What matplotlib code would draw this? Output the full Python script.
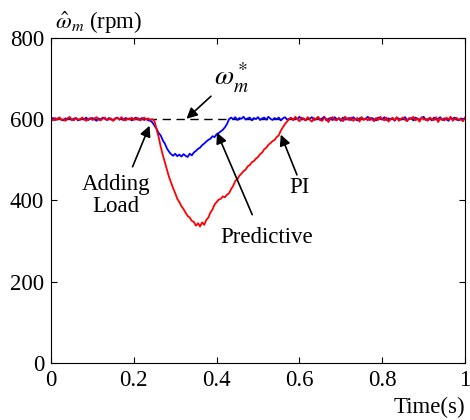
import numpy as np
import matplotlib
matplotlib.use("Agg")
import matplotlib.pyplot as plt

plt.rcParams['font.family'] = ['Liberation Serif', 'DejaVu Serif']
plt.rcParams['mathtext.fontset'] = 'stix'
plt.rcParams['font.size'] = 16.5

# speed reference (rpm)
ref_speed = 600

# PI controller speed, sampled every 5 ms from 0 to 1 s
speed_pi = [
    601, 597, 603, 599, 604, 598, 600, 596, 602, 605,
    599, 597, 603, 600, 598, 604, 601, 596, 600, 603,
    598, 602, 605, 599, 597, 601, 604, 598, 600, 602,
    596, 601, 603, 599, 605, 600, 597, 602, 599, 604,
    598, 601, 603, 597, 600, 604, 599, 602, 598,
    600, 595, 575, 556, 532, 512, 494, 476, 458, 444,
    430, 418, 404, 396, 386, 379, 370, 362, 358, 350,
    347, 338, 344, 336, 346, 340, 352, 358, 370, 378,
    390, 396, 402, 404, 410, 408, 414, 418, 428, 436,
    448, 452, 461, 466, 472, 476, 484, 487, 494, 497,
    503, 507, 514, 518, 526, 530, 537, 541, 546, 549,
    556, 560, 572, 580, 588, 594, 600,
    603, 598, 606, 600, 595, 604, 601, 597, 605, 599,
    594, 603, 600, 606, 598, 596, 604, 601, 593, 602,
    605, 599, 597, 603, 600, 595, 606, 601, 598, 604,
    596, 600, 603, 594, 605, 599, 602, 597, 604, 600,
    595, 603, 598, 606, 601, 597, 604, 594, 600, 603,
    598, 605, 596, 601, 604, 599, 595, 603, 600, 606,
    597, 602, 594, 605, 599, 601, 596, 604, 600, 598,
    605, 593, 602, 600, 597, 604, 599, 606, 596, 601,
    603, 598, 600, 595, 604,
]

# predictive controller speed, same sampling
speed_pred = [
    600, 603, 598, 601, 604, 599, 597, 602, 600, 605,
    598, 601, 603, 597, 600, 602, 599, 604, 598, 601,
    603, 600, 596, 602, 599, 604, 601, 598, 603, 600,
    597, 602, 604, 599, 601, 598, 603, 600, 602, 597,
    601, 604, 599, 600, 603, 598, 601, 597,
    596, 592, 584, 576, 566, 560, 548, 540, 528, 520,
    514, 510, 515, 509, 513, 508, 514, 510, 507, 515,
    511, 518, 522, 527, 530, 536, 540, 545, 549, 552,
    558, 556, 563, 566, 570, 574, 580, 588, 600,
    604, 600, 605, 598, 603, 601, 606, 599, 602, 604,
    597, 603, 600, 605, 598, 602, 604, 599, 606, 601,
    598, 603, 600, 604, 597, 602, 605, 599, 601, 603,
    598, 604, 600, 606, 599, 602, 597, 603, 601, 605,
    598, 600, 604, 599, 602, 606, 597, 601, 603, 598,
    605, 600, 602, 596, 604, 599, 601, 603, 598, 605,
    600, 597, 602, 604, 599, 601, 606, 598, 603, 600,
    597, 604, 601, 599, 605, 598, 602, 600, 603, 596,
    604, 601, 599, 602, 605, 598, 600, 603, 597, 604,
    601, 599, 602, 606, 598, 600, 603, 597, 604, 599,
    601, 605, 598, 602, 600, 596, 603, 601, 604, 599,
    597, 602, 600, 603,
]

xticks = [0, 0.2, 0.4, 0.6, 0.8, 1]
yticks = [0, 200, 400, 600, 800]

t_pi = np.linspace(0, 1, len(speed_pi))
t_pred = np.linspace(0, 1, len(speed_pred))

fig = plt.figure(figsize=(4.7, 4.2), dpi=100)
ax = fig.add_axes([0.1085, 0.1357, 0.881, 0.774])

ax.plot([0, 1], [ref_speed, ref_speed], color='k', lw=1.0, ls=(0, (6, 4)))
ax.plot(t_pred, speed_pred, color='blue', lw=1.3)
ax.plot(t_pi, speed_pi, color='red', lw=1.3)

ax.set_xlim(0, 1)
ax.set_ylim(0, 800)
ax.set_xticks(xticks)
ax.set_xticklabels(['0', '0.2', '0.4', '0.6', '0.8', '1'])
ax.set_yticks(yticks)
ax.tick_params(direction='in', top=True, right=True, length=4, pad=5)

ax.text(0.01, 1.01, r'$\hat{\omega}_m$ (rpm)', transform=ax.transAxes,
        ha='left', va='bottom')
ax.text(1.0, -0.105, 'Time(s)', transform=ax.transAxes, ha='right', va='top')

arrow = dict(arrowstyle='-|>', color='k', lw=1.2, mutation_scale=16,
             shrinkA=0, shrinkB=0)

ax.annotate(r'$\omega_m^*$', xy=(0.327, 601), xytext=(0.435, 702),
            ha='center', va='center', fontsize=20, arrowprops=arrow)
ax.annotate('', xy=(0.238, 584), xytext=(0.197, 483), arrowprops=arrow)
ax.text(0.156, 412, 'Adding\nLoad', ha='center', va='center', linespacing=1.05)
ax.annotate('', xy=(0.401, 567), xytext=(0.486, 365), arrowprops=arrow)
ax.text(0.52, 308, 'Predictive', ha='center', va='center')
ax.annotate('', xy=(0.555, 562), xytext=(0.594, 463), arrowprops=arrow)
ax.text(0.599, 431, 'PI', ha='center', va='center')

fig.savefig('out.png', dpi=100)
